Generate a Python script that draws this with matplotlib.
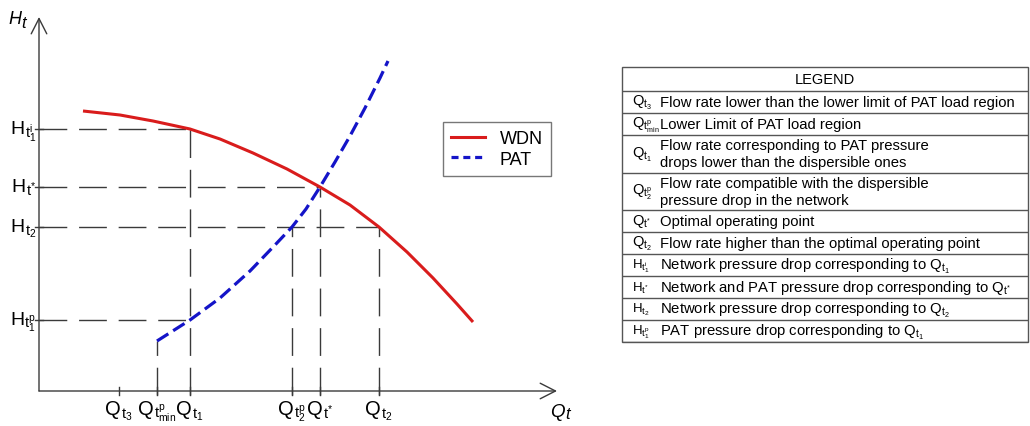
import matplotlib
matplotlib.use("Agg")
import matplotlib.pyplot as plt
from matplotlib.lines import Line2D
from matplotlib.patches import Rectangle

plt.rcParams['font.family'] = ['Liberation Sans', 'DejaVu Sans']
plt.rcParams['mathtext.fontset'] = 'custom'
plt.rcParams['mathtext.rm'] = 'Liberation Sans'
plt.rcParams['mathtext.it'] = 'Liberation Sans:italic'
plt.rcParams['mathtext.bf'] = 'Liberation Sans:bold'

# characteristic curves, schematic units (Q, H)
wdn_q = [44, 81, 114, 151, 181, 214, 248, 281, 311, 340, 368, 394, 418, 434]
wdn_h = [280, 276, 270, 262, 252, 238, 222, 204, 186, 164, 139, 113, 87, 69]
pat_q = [118, 151, 181, 211, 236, 253, 267, 281, 296, 311, 326, 341, 349]
pat_h = [50, 71, 93, 120, 146, 164, 182, 204, 229, 255, 283, 313, 330]

# marked flow rates: Qt3, Qtmin^p, Qt1, Qt2^p, Qt*, Qt2
q_ticks = [80, 118, 151, 253, 281, 340]
q_subs = [r'$\mathrm{t}_3$',
          r'$\mathrm{t}_{\mathrm{min}}^{\mathrm{p}}$',
          r'$\mathrm{t}_1$',
          r'$\mathrm{t}_2^{\mathrm{p}}$',
          r'$\mathrm{t}^{*}$',
          r'$\mathrm{t}_2$']
# marked heads: Ht1^i, Ht*, Ht2, Ht1^p
h_ticks = [262, 204, 164, 71]
h_subs = [r'$\mathrm{t}_1^{\mathrm{i}}$',
          r'$\mathrm{t}^{*}$',
          r'$\mathrm{t}_2$',
          r'$\mathrm{t}_1^{\mathrm{p}}$']

# legend table
sym = [r'$\mathrm{Q}_{\mathrm{t}_3}$',
       r'$\mathrm{Q}_{\mathrm{t}_{\mathrm{min}}^{\mathrm{p}}}$',
       r'$\mathrm{Q}_{\mathrm{t}_1}$',
       r'$\mathrm{Q}_{\mathrm{t}_2^{\mathrm{p}}}$',
       r'$\mathrm{Q}_{\mathrm{t}^{*}}$',
       r'$\mathrm{Q}_{\mathrm{t}_2}$',
       r'$\mathrm{H}_{\mathrm{t}_1^{\mathrm{i}}}$',
       r'$\mathrm{H}_{\mathrm{t}^{*}}$',
       r'$\mathrm{H}_{\mathrm{t}_2}$',
       r'$\mathrm{H}_{\mathrm{t}_1^{\mathrm{p}}}$']
desc = ['Flow rate lower than the lower limit of PAT load region',
        'Lower Limit of PAT load region',
        'Flow rate corresponding to PAT pressure\ndrops lower than the dispersible ones',
        'Flow rate compatible with the dispersible\npressure drop in the network',
        'Optimal operating point',
        'Flow rate higher than the optimal operating point',
        r'Network pressure drop corresponding to $\mathrm{Q}_{\mathrm{t}_1}$',
        r'Network and PAT pressure drop corresponding to $\mathrm{Q}_{\mathrm{t}^{*}}$',
        r'Network pressure drop corresponding to $\mathrm{Q}_{\mathrm{t}_2}$',
        r'PAT pressure drop corresponding to $\mathrm{Q}_{\mathrm{t}_1}$']
sym_size = [10.5] * 6 + [9.5] * 4

RED = '#d91c1c'
BLUE = '#1414c8'
GREY = '#3a3a3a'

fig = plt.figure(figsize=(10.30, 4.27), dpi=100)
ax = fig.add_axes([0, 0, 1, 1])
ax.set_xlim(-39, 991)
ax.set_ylim(-35, 392)
ax.axis('off')


def symbol(x, y, base, sub, size, sub_size, va):
    # big letter followed by a larger-than-usual "t" subscript group
    t1 = ax.text(x, y, base, fontsize=size, ha='left', va=va)
    t2 = ax.annotate(sub, xy=(1, 0), xycoords=t1, xytext=(0, 0),
                     textcoords='offset points', fontsize=sub_size,
                     ha='left', va='baseline')
    return t1, t2


# axes with open arrow heads
arrow = dict(arrowstyle='->,head_length=0.55,head_width=0.28', lw=1.0,
             color=GREY, mutation_scale=20, shrinkA=0, shrinkB=0)
ax.annotate('', xy=(518, 0), xytext=(0, 0), arrowprops=arrow)
ax.annotate('', xy=(0, 374), xytext=(0, 0), arrowprops=arrow)
ax.text(-31, 372, '$H$', fontsize=13, ha='left', va='center')
ax.text(-18, 368, '$t$', fontsize=12, ha='left', va='center')
ax.text(511, -21, '$Q$', fontsize=13.5, ha='left', va='center')
ax.text(526, -23, '$t$', fontsize=12, ha='left', va='center')

# guide lines from the axes to the curve points
dash = dict(color=GREY, lw=1.0, dashes=(20, 8.5), zorder=1)
ht1i, hts, ht2, ht1p = h_ticks
qt3, qtmin, qt1, qt2p, qts, qt2 = q_ticks
for q, h in [(qtmin, pat_h[0]), (qt1, ht1i), (qt2p, ht2), (qts, hts), (qt2, ht2)]:
    ax.plot([q, q], [-4, h], **dash)
for h, q in [(ht1i, qt1), (hts, qts), (ht2, qt2), (ht1p, qt1)]:
    ax.plot([0, q], [h, h], **dash)

# ticks
for q in q_ticks:
    ax.plot([q, q], [-4, 4], color=GREY, lw=1.0)
for h in h_ticks:
    ax.plot([-4, 4], [h, h], color=GREY, lw=1.0)

x_labels = [symbol(q, -8, 'Q', s, 14.5, 10.5, 'top') for q, s in zip(q_ticks, q_subs)]
y_labels = [symbol(-3, h - 4, 'H', s, 14, 10.5, 'baseline') for h, s in zip(h_ticks, h_subs)]

# centre the x labels under their ticks, right-align the y labels
# (one axis unit is one pixel here)
r = fig.canvas.get_renderer()
for q, (t1, t2) in zip(q_ticks, x_labels):
    w = t1.get_window_extent(r).width + t2.get_window_extent(r).width
    t1.set_x(q - w / 2)
for h, (t1, t2) in zip(h_ticks, y_labels):
    w = t1.get_window_extent(r).width + t2.get_window_extent(r).width
    t1.set_x(-3 - w)

# curves
ax.plot(wdn_q, wdn_h, color=RED, lw=2.2, solid_capstyle='butt', zorder=3)
ax.plot(pat_q, pat_h, color=BLUE, lw=2.3, dashes=(4.2, 1.8), zorder=4)

handles = [Line2D([], [], color=RED, lw=2.2),
           Line2D([], [], color=BLUE, lw=2.3, dashes=(2.2, 1.5))]
fig.legend(handles, ['WDN', 'PAT'], loc='upper left',
           bbox_to_anchor=(443 / 1030, 1 - 123 / 427), frameon=True,
           fancybox=False, edgecolor='#555555', fontsize=13,
           handlelength=1.9, handletextpad=0.8, borderpad=0.45,
           labelspacing=0.2, borderaxespad=0)

# legend table on the right
tab = fig.add_axes([622 / 1030, 1 - 343 / 427, 406 / 1030, 275 / 427])
tab.set_xlim(0, 406)
tab.set_ylim(275, 0)
tab.axis('off')
heights = [37.5 if '\n' in d else 22 for d in desc]
line_kw = dict(color='#555555', lw=1.0)
tab.add_patch(Rectangle((0, 0), 406, 275, fill=False, clip_on=False, **line_kw))
tab.text(203, 12, 'LEGEND', fontsize=10.5, ha='center', va='center')
y = 24
tab.plot([0, 406], [y, y], **line_kw)
for s, d, hgt, fs in zip(sym, desc, heights, sym_size):
    yc = y + hgt / 2
    tab.text(10, yc, s, fontsize=fs, ha='left', va='center')
    tab.text(38, yc, d, fontsize=10.7, ha='left', va='center', linespacing=1.25)
    y += hgt
    tab.plot([0, 406], [y, y], **line_kw)

fig.savefig('out.png', dpi=100)
